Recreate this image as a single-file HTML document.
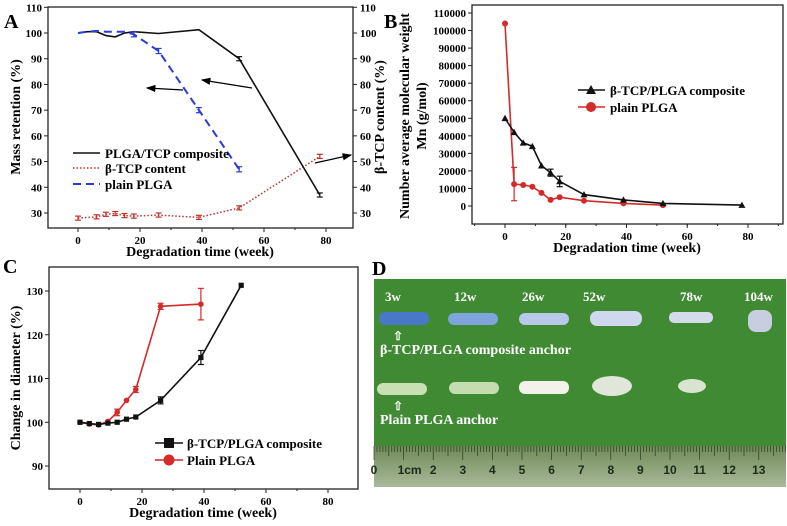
<!DOCTYPE html>
<html><head><meta charset="utf-8"><style>
body{margin:0;background:#fff}
svg{display:block;font-family:"Liberation Serif",serif;font-weight:bold}
</style></head><body>
<svg id="fig" width="787" height="526" viewBox="0 0 787 526" xmlns="http://www.w3.org/2000/svg">
<defs>
<linearGradient id="rul" x1="0" y1="0" x2="0" y2="1"><stop offset="0" stop-color="#6f8a58"/><stop offset="1" stop-color="#a9b99a"/></linearGradient>
<marker id="ah" markerWidth="8" markerHeight="6" refX="7" refY="3" orient="auto"><path d="M0,0 L8,3 L0,6 z" fill="#000"/></marker>
</defs>
<g id="pA"></g>
<g id="pB"></g>
<g id="pC"></g>
<g id="pD">
<rect x="374" y="279" width="412" height="208" fill="#3f8a33"/>
<rect x="374" y="446" width="412" height="41" fill="url(#rul)"/>
<g id="ruler"></g>
<g font-size="13" fill="#fff">
<text x="385" y="301">3w</text><text x="454" y="301">12w</text><text x="522" y="301">26w</text><text x="583" y="301">52w</text><text x="680" y="301">78w</text><text x="744" y="301">104w</text>
</g>
<g>
<rect x="379" y="312" width="50" height="13" rx="6" fill="#4a78c8"/>
<rect x="448" y="313" width="50" height="12" rx="6" fill="#7ea4dc"/>
<rect x="519" y="313" width="50" height="12" rx="6" fill="#b8c8e8"/>
<rect x="590" y="311" width="52" height="15" rx="7" fill="#cfd8ee"/>
<rect x="669" y="312" width="44" height="11" rx="5" fill="#d4dbeb"/>
<rect x="748" y="310" width="24" height="22" rx="8" fill="#c8cde0"/>
</g>
<g>
<rect x="377" y="383" width="50" height="12" rx="6" fill="#c8e0b4"/>
<rect x="449" y="382" width="50" height="12" rx="6" fill="#c4dcb0"/>
<rect x="519" y="381" width="50" height="13" rx="6" fill="#f2f2ea"/>
<ellipse cx="612" cy="386" rx="20" ry="10" fill="#e0e6da"/>
<ellipse cx="692" cy="386" rx="14" ry="7" fill="#d8e4d0"/>
</g>
<text x="380" y="354" font-size="14" fill="#fff">β-TCP/PLGA composite anchor</text>
<text x="380" y="424" font-size="14" fill="#fff">Plain PLGA anchor</text>
<text x="398" y="340" font-size="12" fill="#fff" text-anchor="middle">⇧</text>
<text x="398" y="410" font-size="12" fill="#fff" text-anchor="middle">⇧</text>
</g>
<text x="4" y="28" font-size="20">A</text>
<text x="384" y="28" font-size="20">B</text>
<text x="3" y="273" font-size="20">C</text>
<text x="372" y="275" font-size="20">D</text>
</svg>
<script>
var NS='http://www.w3.org/2000/svg';
// Panel A data
var aWeeks=[0,3,6,9,12,15,18,26,39,52,78];
var aComposite=[100,100.5,100.5,99,98.5,100,100.5,99.8,101.3,90,37];
var aPlainWeeks=[0,3,6,9,12,15,18,26,39,52];
var aPlain=[100,100.5,100.8,100.5,100.5,100.5,99.5,93,70,47];
var aTcpWeeks=[0,6,9,12,15,18,26,39,52,78];
var aTcp=[28,28.5,29.5,29.8,29,28.8,29.2,28.3,32,52];
var aYTicks=[30,40,50,60,70,80,90,100,110];
var xTicks=[0,20,40,60,80];
// Panel B data
var bWeeks=[0,3,6,9,12,15,18,26,39,52,78];
var bComposite=[50000,42000,36000,34000,23000,19000,14000,6500,3500,1500,500];
var bPlainWeeks=[0,3,6,9,12,15,18,26,39,52];
var bPlain=[104000,12500,12000,11000,7500,3500,5000,3000,1500,500];
var bYTicks=[0,10000,20000,30000,40000,50000,60000,70000,80000,90000,100000,110000];
// Panel C data
var cWeeks=[0,3,6,9,12,15,18,26,39,52];
var cComposite=[100,99.7,99.5,99.8,100,100.7,101.2,105,114.8,131.3];
var cPlainWeeks=[0,3,6,9,12,15,18,26,39];
var cPlain=[100,99.6,99.4,100.2,102.3,105,107.5,126.5,127];
var cYTicks=[90,100,110,120,130];

function el(p,t,a,txt){var e=document.createElementNS(NS,t);for(var k in a)e.setAttribute(k,a[k]);if(txt!=null)e.textContent=txt;p.appendChild(e);return e;}
function lin(d0,d1,r0,r1){return function(v){return r0+(v-d0)*(r1-r0)/(d1-d0);};}
function frame(g,L,R,T,B,xs,ys,yt,fmt,rightAxis){
  var f=el(g,'rect',{x:L,y:T,width:R-L,height:B-T,fill:'none',stroke:'#222','stroke-width':1.3});
  
  xTicks.forEach(function(v){var x=xs(v);el(g,'line',{x1:x,y1:B,x2:x,y2:B+4,stroke:'#222'});
    var t=el(g,'text',{x:x,y:B+16,'font-size':11,'text-anchor':'middle'},v);});
  for(var v=-10;v<=90;v+=10){var x=xs(v);if(x>L&&x<R)el(g,'line',{x1:x,y1:B,x2:x,y2:B+2,stroke:'#222'});}
  yt.forEach(function(v){var y=ys(v);el(g,'line',{x1:L-4,y1:y,x2:L,y2:y,stroke:'#222'});
    var t=el(g,'text',{x:L-6,y:y+4,'font-size':11,'text-anchor':'end'},fmt(v));
    if(rightAxis){el(g,'line',{x1:R,y1:y,x2:R+4,y2:y,stroke:'#222'});
      var t2=el(g,'text',{x:R+7,y:y+4,'font-size':11},fmt(v));}
  });
}
function path(g,xs,ys,X,Y,attrs,name){var d='';X.forEach(function(x,i){d+=(i?'L':'M')+xs(x).toFixed(1)+','+ys(Y[i]).toFixed(1);});
  attrs.d=d;attrs.fill='none';var p=el(g,'path',attrs);}
function marks(g,xs,ys,X,Y,type,col,r,name){X.forEach(function(x,i){var cx=xs(x),cy=ys(Y[i]),m;
  if(type=='c')m=el(g,'circle',{cx:cx,cy:cy,r:r,fill:col});
  else if(type=='s')m=el(g,'rect',{x:cx-r,y:cy-r,width:2*r,height:2*r,fill:col});
  else m=el(g,'path',{d:'M'+cx+','+(cy-r)+'L'+(cx+r)+','+(cy+r*0.8)+'L'+(cx-r)+','+(cy+r*0.8)+'z',fill:col});
  });}
function ebar(g,x,y1,y2,col){el(g,'line',{x1:x,y1:y1,x2:x,y2:y2,stroke:col,'stroke-width':1.2});el(g,'line',{x1:x-3,y1:y1,x2:x+3,y2:y1,stroke:col,'stroke-width':1.2});el(g,'line',{x1:x-3,y1:y2,x2:x+3,y2:y2,stroke:col,'stroke-width':1.2});}

// ---- Panel A
(function(){var g=document.getElementById('pA');var L=48,R=353,T=7,B=228;
var xs=lin(0,80,78,326),ys=lin(30,100,213,33);
frame(g,L,R,T,B,xs,ys,aYTicks,function(v){return v;},true);
path(g,xs,ys,aTcpWeeks,aTcp,{stroke:'#c0302a','stroke-width':1.5,'stroke-dasharray':'1.5,2'},'tcp-content-line');
aTcpWeeks.forEach(function(w,i){ebar(g,xs(w),ys(aTcp[i]+0.8),ys(aTcp[i]-0.8),'#c0302a');});
path(g,xs,ys,aWeeks,aComposite,{stroke:'#111','stroke-width':1.6},'composite-mass-line');
[52,78].forEach(function(w){var i=aWeeks.indexOf(w);ebar(g,xs(w),ys(aComposite[i]+0.8),ys(aComposite[i]-0.8),'#111');});
path(g,xs,ys,aPlainWeeks,aPlain,{stroke:'#2b3bd6','stroke-width':2,'stroke-dasharray':'8,5'},'plain-mass-line');
[18,26,39,52].forEach(function(w){var i=aPlainWeeks.indexOf(w);ebar(g,xs(w),ys(aPlain[i]+1),ys(aPlain[i]-1),'#2b3bd6');});
el(g,'line',{x1:252,y1:88,x2:202,y2:80,stroke:'#000','stroke-width':1.2,'marker-end':'url(#ah)'});
el(g,'line',{x1:183,y1:90,x2:147,y2:88,stroke:'#000','stroke-width':1.2,'marker-end':'url(#ah)'});
el(g,'line',{x1:315,y1:163,x2:351,y2:155,stroke:'#000','stroke-width':1.2,'marker-end':'url(#ah)'});
var lg=el(g,'g',{});
el(lg,'line',{x1:73,y1:153,x2:100,y2:153,stroke:'#111','stroke-width':1.6});el(lg,'text',{x:105,y:158,'font-size':13},'PLGA/TCP composite');
el(lg,'line',{x1:73,y1:168,x2:100,y2:168,stroke:'#c0302a','stroke-width':1.5,'stroke-dasharray':'1.5,2'});el(lg,'text',{x:105,y:173,'font-size':13},'β-TCP content');
el(lg,'line',{x1:73,y1:184,x2:100,y2:184,stroke:'#2b3bd6','stroke-width':2,'stroke-dasharray':'8,5'});el(lg,'text',{x:105,y:189,'font-size':13},'plain PLGA');
var t=el(g,'text',{x:200,y:256,'font-size':14,'text-anchor':'middle'},'Degradation time (week)');
t=el(g,'text',{x:0,y:0,'font-size':14,'text-anchor':'middle',transform:'translate(20,117) rotate(-90)'},'Mass retention (%)');
t=el(g,'text',{x:0,y:0,'font-size':14,'text-anchor':'middle',transform:'translate(384,117) rotate(-90)'},'β-TCP content (%)');
})();

// ---- Panel B
(function(){var g=document.getElementById('pB');var L=472,R=783,T=5,B=224;
var xs=lin(0,80,505,748),ys=lin(0,110000,206,13);
frame(g,L,R,T,B,xs,ys,bYTicks,function(v){return v;},false);
path(g,xs,ys,bPlainWeeks,bPlain,{stroke:'#d42a2a','stroke-width':1.6},'plain-mn-line');
ebar(g,xs(3),ys(22000),ys(3000),'#d42a2a');
marks(g,xs,ys,bPlainWeeks,bPlain,'c','#d42a2a',3,'plain-mn-point');
path(g,xs,ys,bWeeks,bComposite,{stroke:'#111','stroke-width':1.6},'composite-mn-line');
ebar(g,xs(18),ys(17000),ys(11000),'#111');ebar(g,xs(15),ys(21000),ys(17000),'#111');
marks(g,xs,ys,bWeeks,bComposite,'t','#111',3.5,'composite-mn-point');
var lg=el(g,'g',{});
el(lg,'line',{x1:578,y1:90,x2:605,y2:90,stroke:'#111','stroke-width':1.6});el(lg,'path',{d:'M591,85L596,94L586,94z',fill:'#111'});el(lg,'text',{x:610,y:95,'font-size':13},'β-TCP/PLGA composite');
el(lg,'line',{x1:578,y1:107,x2:605,y2:107,stroke:'#d42a2a','stroke-width':1.6});el(lg,'circle',{cx:591,cy:107,r:5,fill:'#d42a2a'});el(lg,'text',{x:610,y:112,'font-size':13},'plain PLGA');
var t=el(g,'text',{x:627,y:252,'font-size':14,'text-anchor':'middle'},'Degradation time (week)');
t=el(g,'text',{x:0,y:0,'font-size':14,'text-anchor':'middle',transform:'translate(409,116) rotate(-90)'},'Number average molecular weight');
t=el(g,'text',{x:0,y:0,'font-size':14,'text-anchor':'middle',transform:'translate(426,116) rotate(-90)'},'Mn (g/mol)');
})();

// ---- Panel C
(function(){var g=document.getElementById('pC');var L=49,R=358,T=267,B=489;
var xs=lin(0,80,80,328),ys=lin(90,130,466,291);
frame(g,L,R,T,B,xs,ys,cYTicks,function(v){return v;},false);
path(g,xs,ys,cPlainWeeks,cPlain,{stroke:'#d42a2a','stroke-width':1.6},'plain-diameter-line');
ebar(g,xs(39),ys(130.6),ys(123.4),'#d42a2a');ebar(g,xs(26),ys(127.2),ys(125.8),'#d42a2a');ebar(g,xs(12),ys(103),ys(101.5),'#d42a2a');ebar(g,xs(18),ys(108.2),ys(106.8),'#d42a2a');
marks(g,xs,ys,cPlainWeeks,cPlain,'c','#d42a2a',2.8,'plain-diameter-point');
path(g,xs,ys,cWeeks,cComposite,{stroke:'#111','stroke-width':1.6},'composite-diameter-line');
ebar(g,xs(39),ys(116.4),ys(113.2),'#111');ebar(g,xs(26),ys(105.8),ys(104.2),'#111');
marks(g,xs,ys,cWeeks,cComposite,'s','#111',2.6,'composite-diameter-point');
var lg=el(g,'g',{});
el(lg,'line',{x1:155,y1:443,x2:183,y2:443,stroke:'#111','stroke-width':1.6});el(lg,'rect',{x:164,y:438,width:10,height:10,fill:'#111'});el(lg,'text',{x:187,y:448,'font-size':13},'β-TCP/PLGA composite');
el(lg,'line',{x1:155,y1:460,x2:183,y2:460,stroke:'#d42a2a','stroke-width':1.6});el(lg,'circle',{cx:169,cy:460,r:5.5,fill:'#d42a2a'});el(lg,'text',{x:187,y:465,'font-size':13},'Plain PLGA');
var t=el(g,'text',{x:203,y:517,'font-size':14,'text-anchor':'middle'},'Degradation time (week)');
t=el(g,'text',{x:0,y:0,'font-size':14,'text-anchor':'middle',transform:'translate(20,378) rotate(-90)'},'Change in diameter (%)');
})();

// ---- Ruler
(function(){var g=document.getElementById('ruler');var x0=374,cm=29.6;
for(var i=0;i<=139;i++){var x=x0+i*cm/10;var h=i%10==0?14:(i%5==0?10:6);el(g,'line',{x1:x,y1:446,x2:x,y2:446+h,stroke:'#2a3a22','stroke-width':0.7});}
for(var c=0;c<=13;c++){el(g,'text',{x:x0+c*cm+(c==1?6:0),y:474,'font-size':12,'font-family':'Liberation Sans','text-anchor':'middle',fill:'#1e2a18'},c==1?'1cm':c);}
})();
</script>
</body></html>
